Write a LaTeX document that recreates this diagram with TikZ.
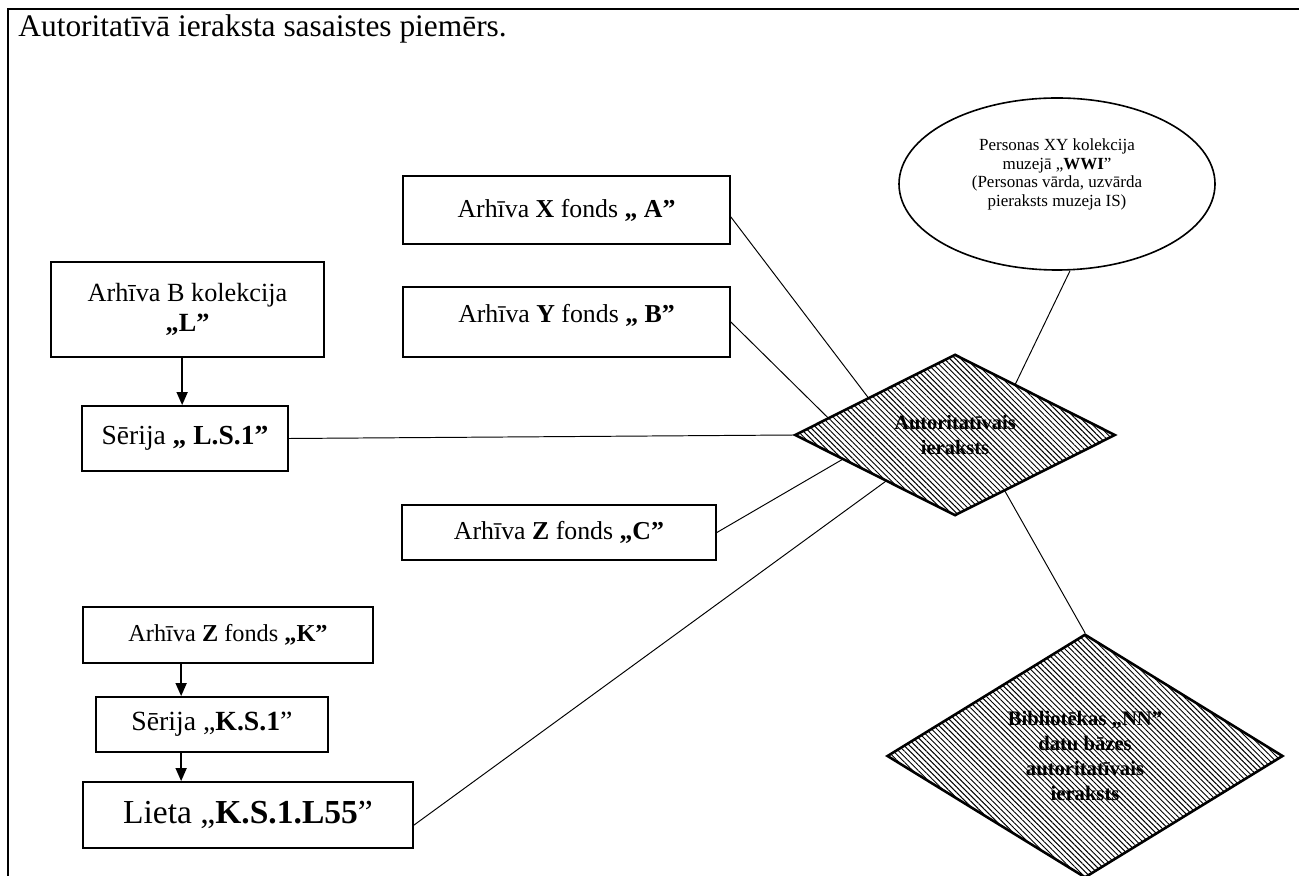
\documentclass[tikz,border=0pt]{standalone}
\usepackage{fontspec}
\setmainfont{Liberation Serif}
\usetikzlibrary{shapes.geometric,patterns.meta,arrows.meta,calc}
\newdimen\pxu \pxu=0.465pt
\newcommand\setfs[2]{\fontsize{#1}{#2}\selectfont}
\begin{document}
\begin{tikzpicture}[x=0.465pt,y=-0.465pt,
  box/.style={draw,line width=0.8pt,rectangle,inner sep=0pt,align=center},
  link/.style={line width=0.45pt},
  arr/.style={line width=0.9pt,-{Triangle[length=6pt,width=5pt]}},
  hatchd/.style={diamond,draw,line width=1.2pt,inner sep=0pt,align=center,
    pattern={Lines[angle=-45,distance=1.8pt,line width=0.45pt]},font=\bfseries}
]
\useasboundingbox (0,0) rectangle (1299,876);
% outer frame
\draw[line width=0.95pt] (8,876) -- (8,9) -- (1299,9);
\node[anchor=west,inner sep=0pt,font=\setfs{14.6pt}{17pt}] (title) at (18,29) {Autoritatīvā ieraksta sasaistes piemērs.};

% boxes
\node[box,minimum width=327\pxu,minimum height=68\pxu,font=\setfs{12pt}{14pt}] (X) at (566.5,210) {Arhīva \textbf{X} fonds \textbf{,, A”}};
\node[box,minimum width=327\pxu,minimum height=70\pxu,font=\setfs{12pt}{14pt},text height=8.4pt,text depth=8pt] (Y) at (566.5,322) {Arhīva \textbf{Y} fonds \textbf{,, B”}};
\node[box,minimum width=314\pxu,minimum height=55\pxu,font=\setfs{12pt}{14pt}] (Zc) at (559,532.5) {Arhīva \textbf{Z} fonds \textbf{,,C”}};
\node[box,minimum width=273\pxu,minimum height=95\pxu,font=\setfs{12.2pt}{14pt}] (B) at (187.5,309.5) {Arhīva B kolekcija\\\textbf{,,L”}};
\node[box,minimum width=206\pxu,minimum height=65\pxu,font=\setfs{12.8pt}{15pt}] (LS1) at (185,438.5) {Sērija \textbf{,, L.S.1”}};
\node[box,minimum width=290\pxu,minimum height=56\pxu,font=\setfs{11.3pt}{13pt}] (K) at (228,635) {Arhīva \textbf{Z} fonds \textbf{,,K”}};
\node[box,minimum width=232\pxu,minimum height=55\pxu,font=\setfs{12.9pt}{15pt}] (KS1) at (212,724.5) {Sērija ,,\textbf{K.S.1}”};
\node[box,minimum width=330\pxu,minimum height=66\pxu,font=\setfs{15.6pt}{18pt}] (Lieta) at (248,815) {Lieta ,,\textbf{K.S.1.L55}”};

% ellipse
\node[ellipse,draw,line width=0.75pt,minimum width=316\pxu,minimum height=172\pxu,inner sep=0pt,
  label={[font=\setfs{7.9pt}{8.6pt},align=center,yshift=4.4pt]center:{Personas XY kolekcija\\muzejā ,,\textbf{WWI}”\\(Personas vārda, uzvārda\\pieraksts muzeja IS)}}] (ell) at (1057,184) {};

% diamonds
\node[hatchd,minimum width=320\pxu,minimum height=156\pxu,font=\bfseries\setfs{9.5pt}{11.6pt}] (d1) at (955,435) {Autoritatīvais\\ieraksts};
\node[hatchd,minimum width=396\pxu,minimum height=228\pxu,font=\bfseries\setfs{9.6pt}{11.6pt}] (d2) at (1085,756) {Bibliotēkas ,,NN”\\datu bāzes\\autoritatīvais\\ieraksts};

% arrows
\draw[arr] ($(B.south west)+(132,0)$) -- ($(LS1.north west)+(101,0)$);
\draw[arr] ($(K.south west)+(99,0)$) -- ($(KS1.north west)+(86,0)$);
\draw[arr] ($(KS1.south west)+(86,0)$) -- ($(Lieta.north west)+(99,0)$);

% links
\draw[link] ($(X.north east)!0.6!(X.south east)$) -- ($(d1.west)!0.46!(d1.north)$);
\draw[link] (Y.east) -- ($(d1.west)!0.21!(d1.north)$);
\draw[link] (LS1.east) -- (d1.west);
\draw[link] (Zc.east) -- ($(d1.west)!0.3!(d1.south)$);
\draw[link] ($(Lieta.north east)!0.65!(Lieta.south east)$) -- ($(d1.west)!0.57!(d1.south)$);
\draw[link] ($(ell.south)+(13,0)$) -- ($(d1.north)!0.375!(d1.east)$);
\draw[link] ($(d1.south)!0.31!(d1.east)$) -- (d2.north);
\end{tikzpicture}
\end{document}
